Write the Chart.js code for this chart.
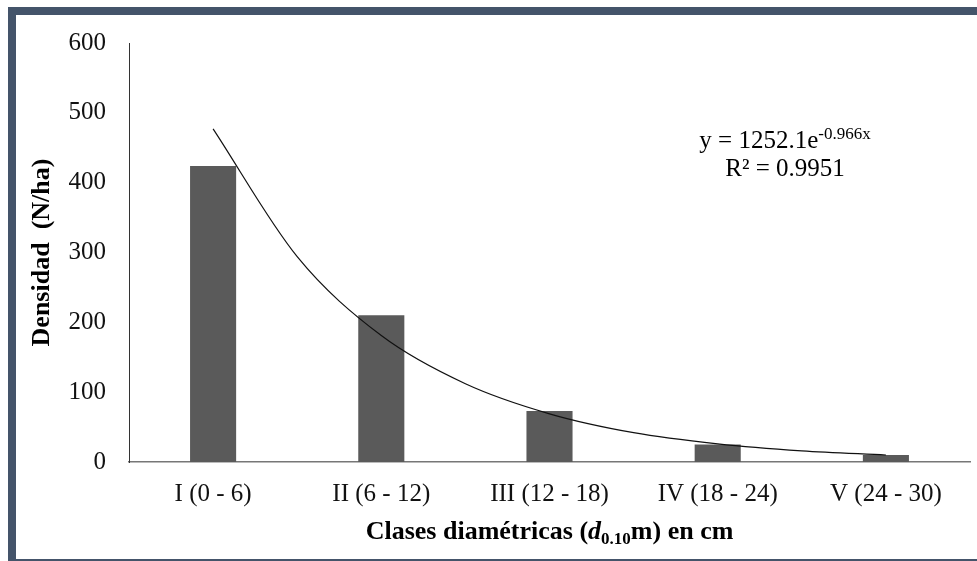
<!DOCTYPE html>
<html>
<head>
<meta charset="utf-8">
<script src="https://cdn.jsdelivr.net/npm/chart.js@4"></script>
<style>
  html, body { margin: 0; padding: 0; background: #fff; }
  #wrap { position: relative; width: 977px; height: 561px; overflow: hidden; }
  #chart { position: absolute; left: 0; top: 0; }
  #frame {
    position: absolute; left: 8px; top: 7px; width: 1000px; height: 560px;
    box-sizing: border-box; border: 8px solid #44546a; border-right: none;
    pointer-events: none;
  }
</style>
</head>
<body>
<div id="wrap">
  <canvas id="chart" width="977" height="561"></canvas>
  <div id="frame"></div>
</div>
<script>
const categories = ['I (0 - 6)', 'II (6 - 12)', 'III (12 - 18)', 'IV (18 - 24)', 'V (24 - 30)'];
const classPos = [1, 2, 3, 4, 5];
const density = [424, 210, 73, 25, 10];
// exponential trend line at each class and half way between
const trendX = [1, 1.5, 2, 2.5, 3, 3.5, 4, 4.5, 5];
const trendY = [477, 294, 181, 112, 69, 42, 26, 16, 10];
const yTicks = [0, 100, 200, 300, 400, 500, 600];

const serif = "'Liberation Serif', 'Times New Roman', serif";

const extraText = {
    id: 'extraText',
    afterDraw(chart) {
        const ctx = chart.ctx;
        const xs = chart.scales.x, ys = chart.scales.y;
        const area = chart.chartArea;
        ctx.save();
        ctx.fillStyle = '#000';
        ctx.textBaseline = 'alphabetic';

        // x axis title with italic d and subscript
        const parts = [
            { t: 'Clases diamétricas (', f: 'bold 26px ' + serif, dy: 0 },
            { t: 'd', f: 'italic bold 26px ' + serif, dy: 0 },
            { t: '0.10', f: 'bold 17px ' + serif, dy: 5 },
            { t: 'm) en cm', f: 'bold 26px ' + serif, dy: 0 }
        ];
        let total = 0;
        parts.forEach(p => { ctx.font = p.f; p.w = ctx.measureText(p.t).width; total += p.w; });
        let x = (area.left + area.right) / 2 - total / 2;
        const base = area.bottom + 77;
        ctx.textAlign = 'left';
        parts.forEach(p => { ctx.font = p.f; ctx.fillText(p.t, x, base + p.dy); x += p.w; });

        // equation
        const cx = xs.getPixelForValue(4.4);
        const y1 = ys.getPixelForValue(450);
        const main = 'y = 1252.1e', sup = '-0.966x';
        ctx.font = '25px ' + serif;
        const wm = ctx.measureText(main).width;
        ctx.font = '17px ' + serif;
        const ws = ctx.measureText(sup).width;
        let sx = cx - (wm + ws) / 2;
        ctx.font = '25px ' + serif;
        ctx.fillText(main, sx, y1);
        ctx.font = '17px ' + serif;
        ctx.fillText(sup, sx + wm, y1 - 9);
        ctx.font = '25px ' + serif;
        ctx.textAlign = 'center';
        ctx.fillText('R² = 0.9951', cx, y1 + 28);
        ctx.restore();
    }
};

new Chart(document.getElementById('chart'), {
    type: 'bar',
    data: {
        datasets: [
            {
                type: 'line',
                data: trendX.map((v, i) => ({ x: v, y: trendY[i] })),
                borderColor: '#111',
                borderWidth: 1.2,
                pointRadius: 0,
                cubicInterpolationMode: 'monotone',
                fill: false
            },
            {
                type: 'bar',
                data: classPos.map((v, i) => ({ x: v, y: density[i] })),
                backgroundColor: '#5a5a5a',
                borderWidth: 0,
                grouped: false,
                categoryPercentage: 1,
                barPercentage: 0.274
            }
        ]
    },
    plugins: [extraText],
    options: {
        responsive: false,
        animation: false,
        layout: { padding: { top: 43, right: 7, bottom: 0, left: 0 } },
        plugins: { legend: { display: false }, tooltip: { enabled: false } },
        scales: {
            x: {
                type: 'linear',
                min: 0.5,
                max: 5.5,
                offset: false,
                grid: { display: false, drawTicks: false, tickLength: 0 },
                border: { display: true, color: '#777', width: 1.5 },
                afterBuildTicks(scale) { scale.ticks = classPos.map(v => ({ value: v })); },
                ticks: {
                    color: '#111', padding: 17, font: { family: serif, size: 25 }, maxRotation: 0,
                    callback: v => categories[classPos.indexOf(v)]
                },
                afterFit(scale) { scale.height = 99; }
            },
            y: {
                min: 0,
                max: 600,
                grid: { display: false, drawTicks: false, tickLength: 0 },
                border: { display: true, color: '#333', width: 1 },
                afterBuildTicks(scale) { scale.ticks = yTicks.map(v => ({ value: v })); },
                ticks: { color: '#111', padding: 23, font: { family: serif, size: 25 } },
                title: {
                    display: true,
                    text: 'Densidad  (N/ha)',
                    color: '#000',
                    font: { family: serif, size: 26, weight: 'bold' },
                    padding: { top: 27, bottom: 0 }
                },
                afterFit(scale) { scale.width = 129; }
            }
        }
    }
});
</script>
</body>
</html>
